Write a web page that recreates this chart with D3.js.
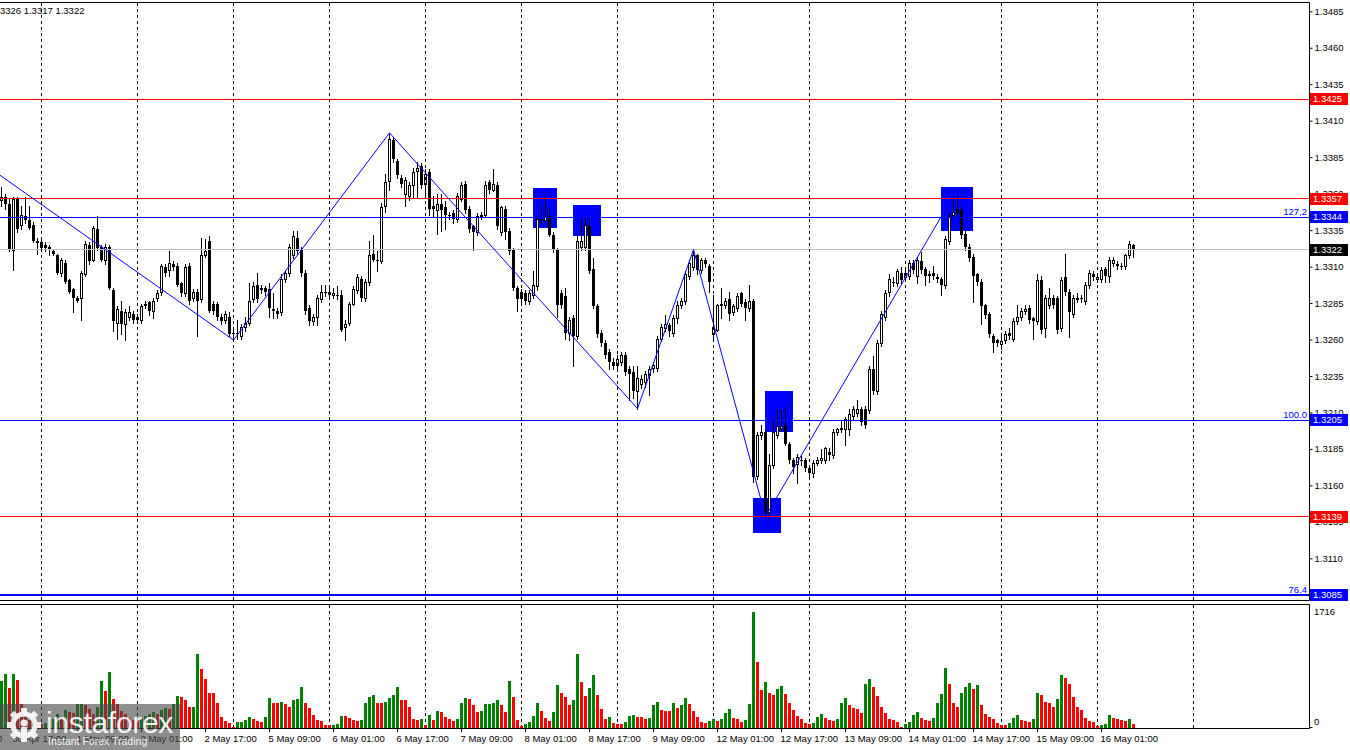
<!DOCTYPE html>
<html><head><meta charset="utf-8">
<script src="https://cdn.jsdelivr.net/npm/d3@7"></script>
<style>body{margin:0;background:#fff}svg{display:block}</style>
</head><body><svg id="chart" width="1350" height="750"></svg>
<script>
// ---------------- DATA ----------------
const openP = [1.3356,1.3358,1.3353,1.3322,1.3357,1.3339,1.3345,1.3342,1.3339,1.3327,
1.3327,1.3325,1.3324,1.3321,1.3318,1.3306,1.3313,1.3301,1.3295,1.3289,
1.3289,1.3305,1.3325,1.3315,1.3336,1.3324,1.3315,1.3324,1.3294,1.3272,
1.3280,1.3271,1.3276,1.3278,1.3276,1.3274,1.3284,1.3286,1.3280,1.3289,
1.3293,1.3310,1.3308,1.3312,1.3311,1.3299,1.3292,1.3311,1.3289,1.3293,
1.3288,1.3318,1.3328,1.3285,1.3285,1.3276,1.3274,1.3276,1.3265,1.3265,
1.3263,1.3269,1.3272,1.3288,1.3298,1.3295,1.3296,1.3295,1.3281,1.3280,
1.3279,1.3302,1.3306,1.3318,1.3330,1.3322,1.3306,1.3282,1.3273,1.3276,
1.3288,1.3293,1.3293,1.3291,1.3291,1.3291,1.3269,1.3272,1.3285,1.3294,
1.3302,1.3289,1.3300,1.3319,1.3315,1.3314,1.3352,1.3369,1.3397,1.3383,
1.3371,1.3360,1.3359,1.3366,1.3376,1.3379,1.3367,1.3375,1.3352,1.3349,
1.3353,1.3351,1.3346,1.3347,1.3343,1.3357,1.3367,1.3350,1.3338,1.3334,
1.3345,1.3346,1.3368,1.3363,1.3366,1.3334,1.3350,1.3335,1.3322,1.3296,
1.3293,1.3292,1.3287,1.3291,1.3297,1.3342,1.3342,1.3345,1.3332,1.3322,
1.3292,1.3290,1.3265,1.3275,1.3263,1.3324,1.3324,1.3338,1.3309,1.3283,
1.3265,1.3258,1.3252,1.3245,1.3243,1.3245,1.3250,1.3240,1.3238,1.3225,
1.3230,1.3231,1.3236,1.3241,1.3241,1.3261,1.3268,1.3270,1.3265,1.3275,
1.3284,1.3287,1.3304,1.3310,1.3318,1.3308,1.3315,1.3311,1.3264,1.3267,
1.3284,1.3284,1.3288,1.3279,1.3282,1.3292,1.3286,1.3282,1.3287,1.3167,
1.3195,1.3197,1.3142,1.3174,1.3195,1.3200,1.3202,1.3189,1.3178,1.3175,
1.3178,1.3178,1.3172,1.3169,1.3176,1.3178,1.3178,1.3183,1.3181,1.3197,
1.3199,1.3199,1.3199,1.3208,1.3210,1.3213,1.3213,1.3212,1.3240,1.3225,
1.3258,1.3276,1.3293,1.3300,1.3299,1.3306,1.3303,1.3304,1.3313,1.3304,
1.3314,1.3309,1.3305,1.3306,1.3303,1.3302,1.3298,1.3328,1.3346,1.3350,
1.3349,1.3333,1.3324,1.3317,1.3305,1.3300,1.3284,1.3278,1.3263,1.3260,
1.3257,1.3260,1.3265,1.3261,1.3273,1.3276,1.3280,1.3282,1.3275,1.3273,
1.3301,1.3268,1.3284,1.3289,1.3289,1.3268,1.3303,1.3293,1.3278,1.3288,
1.3289,1.3287,1.3298,1.3305,1.3302,1.3302,1.3309,1.3304,1.3313,1.3312,
1.3311,1.3311,1.3318,1.3325];

const highP = [1.3365,1.3360,1.3357,1.3358,1.3358,1.3352,1.3358,1.3352,1.3341,1.3330,
1.3329,1.3327,1.3325,1.3322,1.3319,1.3316,1.3315,1.3302,1.3296,1.3290,
1.3307,1.3328,1.3327,1.3338,1.3345,1.3325,1.3326,1.3325,1.3296,1.3283,
1.3287,1.3281,1.3283,1.3280,1.3278,1.3285,1.3287,1.3287,1.3289,1.3294,
1.3312,1.3312,1.3321,1.3314,1.3313,1.3300,1.3312,1.3313,1.3295,1.3295,
1.3330,1.3329,1.3331,1.3287,1.3286,1.3278,1.3280,1.3279,1.3267,1.3274,
1.3271,1.3276,1.3299,1.3300,1.3306,1.3298,1.3297,1.3299,1.3292,1.3282,
1.3305,1.3308,1.3326,1.3335,1.3335,1.3324,1.3308,1.3284,1.3278,1.3291,
1.3298,1.3298,1.3297,1.3296,1.3297,1.3294,1.3274,1.3286,1.3297,1.3305,
1.3304,1.3302,1.3328,1.3332,1.3321,1.3354,1.3374,1.3402,1.3399,1.3384,
1.3373,1.3372,1.3368,1.3378,1.3382,1.3381,1.3377,1.3377,1.3359,1.3360,
1.3360,1.3355,1.3348,1.3349,1.3361,1.3368,1.3369,1.3352,1.3339,1.3347,
1.3348,1.3369,1.3370,1.3377,1.3368,1.3352,1.3352,1.3337,1.3323,1.3297,
1.3295,1.3294,1.3294,1.3307,1.3345,1.3351,1.3358,1.3351,1.3334,1.3323,
1.3294,1.3296,1.3276,1.3277,1.3332,1.3344,1.3344,1.3344,1.3316,1.3285,
1.3267,1.3260,1.3254,1.3248,1.3250,1.3252,1.3252,1.3242,1.3242,1.3242,
1.3236,1.3239,1.3242,1.3245,1.3263,1.3271,1.3277,1.3272,1.3277,1.3287,
1.3289,1.3307,1.3315,1.3321,1.3319,1.3316,1.3316,1.3312,1.3291,1.3285,
1.3296,1.3289,1.3293,1.3285,1.3292,1.3293,1.3288,1.3298,1.3288,1.3197,
1.3202,1.3199,1.3182,1.3206,1.3213,1.3212,1.3214,1.3190,1.3179,1.3182,
1.3181,1.3179,1.3173,1.3178,1.3180,1.3185,1.3187,1.3186,1.3199,1.3200,
1.3205,1.3207,1.3213,1.3215,1.3219,1.3214,1.3215,1.3242,1.3249,1.3260,
1.3280,1.3294,1.3305,1.3303,1.3309,1.3310,1.3309,1.3315,1.3315,1.3317,
1.3320,1.3310,1.3307,1.3311,1.3305,1.3303,1.3331,1.3348,1.3359,1.3359,
1.3351,1.3335,1.3326,1.3319,1.3306,1.3302,1.3285,1.3279,1.3264,1.3261,
1.3265,1.3266,1.3268,1.3275,1.3284,1.3282,1.3284,1.3284,1.3276,1.3305,
1.3304,1.3291,1.3296,1.3291,1.3290,1.3303,1.3319,1.3295,1.3291,1.3292,
1.3291,1.3300,1.3308,1.3307,1.3305,1.3310,1.3310,1.3317,1.3317,1.3314,
1.3313,1.3319,1.3328,1.3326];

const lowP = [1.3352,1.3350,1.3321,1.3308,1.3334,1.3336,1.3340,1.3336,1.3327,1.3319,
1.3322,1.3321,1.3318,1.3318,1.3305,1.3304,1.3299,1.3292,1.3279,1.3286,
1.3274,1.3304,1.3312,1.3314,1.3322,1.3314,1.3312,1.3295,1.3266,1.3261,
1.3264,1.3260,1.3274,1.3272,1.3272,1.3272,1.3282,1.3277,1.3275,1.3287,
1.3291,1.3304,1.3304,1.3308,1.3297,1.3290,1.3290,1.3285,1.3287,1.3263,
1.3286,1.3317,1.3279,1.3278,1.3274,1.3271,1.3272,1.3263,1.3260,1.3261,
1.3261,1.3266,1.3270,1.3286,1.3286,1.3292,1.3291,1.3276,1.3275,1.3275,
1.3277,1.3300,1.3304,1.3316,1.3319,1.3304,1.3278,1.3270,1.3270,1.3270,
1.3286,1.3290,1.3289,1.3289,1.3288,1.3266,1.3260,1.3270,1.3284,1.3292,
1.3287,1.3287,1.3298,1.3314,1.3307,1.3313,1.3348,1.3363,1.3382,1.3371,
1.3365,1.3352,1.3356,1.3358,1.3358,1.3364,1.3358,1.3346,1.3345,1.3333,
1.3335,1.3336,1.3343,1.3340,1.3341,1.3355,1.3347,1.3334,1.3322,1.3332,
1.3343,1.3344,1.3361,1.3362,1.3336,1.3332,1.3329,1.3319,1.3294,1.3280,
1.3286,1.3285,1.3285,1.3289,1.3294,1.3340,1.3341,1.3331,1.3320,1.3276,
1.3282,1.3261,1.3260,1.3242,1.3261,1.3322,1.3322,1.3306,1.3282,1.3262,
1.3256,1.3248,1.3240,1.3240,1.3240,1.3243,1.3236,1.3219,1.3220,1.3213,
1.3227,1.3228,1.3222,1.3238,1.3239,1.3259,1.3266,1.3263,1.3263,1.3272,
1.3282,1.3285,1.3302,1.3308,1.3305,1.3306,1.3310,1.3293,1.3260,1.3266,
1.3275,1.3282,1.3274,1.3277,1.3280,1.3283,1.3274,1.3280,1.3163,1.3165,
1.3192,1.3139,1.3140,1.3172,1.3193,1.3198,1.3188,1.3176,1.3169,1.3162,
1.3174,1.3170,1.3167,1.3166,1.3174,1.3176,1.3176,1.3178,1.3179,1.3195,
1.3197,1.3188,1.3195,1.3206,1.3208,1.3202,1.3200,1.3210,1.3223,1.3223,
1.3256,1.3274,1.3290,1.3297,1.3297,1.3299,1.3301,1.3302,1.3306,1.3299,
1.3306,1.3298,1.3300,1.3302,1.3300,1.3291,1.3296,1.3326,1.3344,1.3345,
1.3330,1.3322,1.3314,1.3286,1.3298,1.3271,1.3275,1.3262,1.3252,1.3256,
1.3254,1.3258,1.3261,1.3259,1.3271,1.3274,1.3278,1.3272,1.3261,1.3271,
1.3265,1.3262,1.3282,1.3282,1.3265,1.3266,1.3291,1.3262,1.3276,1.3286,
1.3286,1.3285,1.3296,1.3301,1.3300,1.3300,1.3300,1.3300,1.3311,1.3309,
1.3309,1.3309,1.3316,1.3317];

const closeP = [1.3358,1.3353,1.3322,1.3357,1.3336,1.3346,1.3342,1.3337,1.3328,1.3328,
1.3323,1.3323,1.3322,1.3319,1.3306,1.3315,1.3300,1.3293,1.3289,1.3287,
1.3306,1.3326,1.3314,1.3337,1.3323,1.3315,1.3324,1.3296,1.3273,1.3281,
1.3271,1.3279,1.3279,1.3274,1.3274,1.3283,1.3285,1.3280,1.3287,1.3292,
1.3311,1.3306,1.3313,1.3310,1.3298,1.3292,1.3310,1.3287,1.3293,1.3287,
1.3318,1.3321,1.3280,1.3280,1.3276,1.3273,1.3278,1.3264,1.3265,1.3264,
1.3269,1.3272,1.3287,1.3297,1.3288,1.3296,1.3293,1.3282,1.3280,1.3278,
1.3302,1.3306,1.3324,1.3331,1.3321,1.3306,1.3280,1.3273,1.3276,1.3289,
1.3293,1.3292,1.3291,1.3292,1.3290,1.3267,1.3271,1.3285,1.3295,1.3303,
1.3289,1.3300,1.3318,1.3315,1.3314,1.3351,1.3368,1.3398,1.3384,1.3373,
1.3367,1.3370,1.3366,1.3375,1.3378,1.3366,1.3374,1.3350,1.3350,1.3353,
1.3349,1.3346,1.3345,1.3343,1.3359,1.3366,1.3349,1.3336,1.3334,1.3345,
1.3346,1.3366,1.3363,1.3367,1.3338,1.3351,1.3334,1.3321,1.3296,1.3288,
1.3288,1.3287,1.3292,1.3298,1.3343,1.3343,1.3344,1.3332,1.3322,1.3284,
1.3284,1.3265,1.3274,1.3263,1.3328,1.3328,1.3339,1.3307,1.3283,1.3264,
1.3258,1.3250,1.3245,1.3242,1.3247,1.3250,1.3238,1.3237,1.3225,1.3234,
1.3233,1.3237,1.3240,1.3243,1.3261,1.3269,1.3271,1.3266,1.3275,1.3284,
1.3287,1.3305,1.3313,1.3318,1.3308,1.3315,1.3312,1.3300,1.3269,1.3284,
1.3285,1.3287,1.3278,1.3283,1.3290,1.3285,1.3282,1.3287,1.3166,1.3195,
1.3197,1.3141,1.3174,1.3197,1.3201,1.3201,1.3189,1.3178,1.3173,1.3180,
1.3177,1.3172,1.3169,1.3176,1.3178,1.3179,1.3186,1.3181,1.3197,1.3199,
1.3200,1.3206,1.3209,1.3213,1.3213,1.3204,1.3202,1.3240,1.3225,1.3258,
1.3278,1.3292,1.3302,1.3300,1.3307,1.3301,1.3306,1.3313,1.3308,1.3315,
1.3308,1.3304,1.3304,1.3304,1.3302,1.3298,1.3329,1.3345,1.3348,1.3347,
1.3332,1.3324,1.3316,1.3304,1.3300,1.3283,1.3277,1.3264,1.3258,1.3258,
1.3259,1.3264,1.3263,1.3273,1.3276,1.3280,1.3281,1.3274,1.3273,1.3301,
1.3267,1.3289,1.3289,1.3284,1.3267,1.3301,1.3293,1.3279,1.3289,1.3289,
1.3288,1.3298,1.3306,1.3303,1.3303,1.3308,1.3304,1.3315,1.3315,1.3311,
1.3311,1.3318,1.3326,1.3322];

const volumes = [700,800,590,800,715,350,180,120,150,90,
60,80,110,140,200,170,260,230,220,348,
350,340,284,210,318,700,544,833,436,348,
250,200,150,120,120,150,180,200,230,210,
260,300,280,348,480,465,421,309,318,1093,
877,730,524,520,363,157,98,69,15,83,
85,113,157,127,98,83,157,451,377,363,
392,348,318,421,425,612,377,289,186,113,
110,49,39,45,54,181,175,142,113,110,
115,377,465,495,377,375,392,451,495,612,
421,407,304,127,125,130,39,186,113,245,
230,157,127,98,127,363,451,436,333,230,
245,348,350,363,421,333,230,700,465,113,
25,54,83,172,363,245,142,98,230,642,
524,465,333,421,1093,686,480,593,789,495,
274,127,157,69,59,54,83,172,186,170,
157,127,142,333,392,260,258,245,377,289,
333,451,348,245,157,83,80,98,127,98,
127,216,274,142,127,83,113,348,1716,980,
568,686,524,495,583,627,510,363,260,172,
127,69,54,72,157,201,142,113,98,127,
363,451,333,289,274,216,657,730,612,480,
304,216,127,113,83,10,54,83,186,230,
142,113,110,142,377,510,892,657,363,318,
524,612,671,583,642,333,201,157,127,69,
39,38,69,142,186,113,110,83,127,524,
495,392,363,304,436,789,745,657,465,304,
260,142,98,83,25,40,54,186,142,140,
113,110,127,54];

// price axis ticks
const priceTicks = [1.3085,1.3110,1.3135,1.3160,1.3185,1.3210,1.3235,1.3260,1.3285,1.3310,1.3335,1.3360,1.3385,1.3410,1.3435,1.3460,1.3485];
const volumeMax = 1716;
// time axis labels (one every 16 bars, first one at bar -13)
const timeLabels = ["30 Apr 01:00","30 Apr 17:00","1 May 09:00","2 May 01:00","2 May 17:00","5 May 09:00","6 May 01:00","6 May 17:00","7 May 09:00","8 May 01:00","8 May 17:00","9 May 09:00","12 May 01:00","12 May 17:00","13 May 09:00","14 May 01:00","14 May 17:00","15 May 09:00","16 May 01:00"];
const timeLabelBars = [-13,3,19,35,51,67,83,99,115,131,147,163,179,195,211,227,243,259,275];
// bars where a new day starts
const dayStartBars = [10,34,58,82,106,130,154,178,202,226,250,274,298];
// horizontal levels
const levelPrices = [1.3425,1.3357,1.3344,1.3322,1.3205,1.3139,1.3085];
const levelColors = ["#ff0000","#ff0000","#0000ff","#c0c0c0","#0000ff","#ff0000","#0000ff"];
const levelBoxColors = ["#ff0000","#ff0000","#0000ff","#000000","#0000ff","#ff0000","#0000ff"];
const levelWidths = [1,1,1,1,1,1,2];
// fibonacci level captions
const fibPrices = [1.3344,1.3205,1.3085];
const fibTexts = ["127,2","100.0","76.4"];
// zigzag turning points [bar, price]
const zigzagBars = [-0.4,58,97,159,173,191,238];
const zigzagPrices = [1.3373,1.3260,1.3402,1.3213,1.3322,1.3139,1.3359];
// blue rectangles [bar from, bar to, price top, price bottom]
const rectBarFrom = [132.9,142.9,190.9,187.9,234.9];
const rectBarTo = [138.8,149.8,197.8,194.8,242.8];
const rectPriceTop = [1.33642,1.33526,1.32251,1.31517,1.33649];
const rectPriceBottom = [1.33368,1.33316,1.31972,1.31280,1.33350];
// last quote (high low close)
const lastQuote = ["1.3326","1.3317","1.3322"];

// ---------------- DRAWING ----------------
const FONT = '"Liberation Sans", Arial, sans-serif';
const svg = d3.select('#chart');
const x = d3.scaleLinear().domain([0, 283]).range([1.5, 1133.5]);
const y = d3.scaleLinear().domain([1.30818, 1.34917]).range([600, 2]);
const yv = d3.scaleLinear().domain([0, volumeMax]).range([728, 612]);
const R = Math.round;

svg.append('rect').attr('width', 1350).attr('height', 750).attr('fill', '#fff');

const defs = svg.append('defs');
defs.append('clipPath').attr('id', 'mainClip').append('rect')
  .attr('x', 0).attr('y', 3).attr('width', 1309).attr('height', 597);

const main = svg.append('g').attr('clip-path', 'url(#mainClip)');

// rectangles (background)
main.append('g').selectAll('rect').data(rectBarFrom).join('rect')
  .attr('x', (d, k) => R(x(rectBarFrom[k])))
  .attr('width', (d, k) => R(x(rectBarTo[k])) - R(x(rectBarFrom[k])))
  .attr('y', (d, k) => R(y(rectPriceTop[k])))
  .attr('height', (d, k) => R(y(rectPriceBottom[k])) - R(y(rectPriceTop[k])))
  .attr('fill', '#0000ff');

// day separators
const sep = svg.append('g').attr('stroke', '#000').attr('stroke-width', 1).attr('stroke-dasharray', '3,3');
sep.selectAll('line.m').data(dayStartBars).join('line').attr('class', 'm')
  .attr('x1', d => x(d)).attr('x2', d => x(d)).attr('y1', 3).attr('y2', 600);
sep.selectAll('line.v').data(dayStartBars).join('line').attr('class', 'v')
  .attr('x1', d => x(d)).attr('x2', d => x(d)).attr('y1', 605).attr('y2', 728);

// candles
const candles = d3.range(openP.length).map(i => ({ i, o: openP[i], h: highP[i], l: lowP[i], c: closeP[i], v: volumes[i] }));
const gc = main.append('g');
gc.selectAll('rect.wick').data(candles).join('rect').attr('class', 'wick')
  .attr('x', d => x(d.i) - 0.5).attr('width', 1)
  .attr('y', d => R(y(d.h)))
  .attr('height', d => Math.max(1, R(y(d.l)) - R(y(d.h)) + 1))
  .attr('fill', '#000');
gc.selectAll('rect.body').data(candles).join('rect').attr('class', 'body')
  .each(function (d) {
    const s = d3.select(this);
    const top = R(y(Math.max(d.o, d.c)));
    const bot = R(y(Math.min(d.o, d.c)));
    if (d.c > d.o && bot - top >= 1) {
      s.attr('x', x(d.i) - 1).attr('width', 2).attr('y', top + 0.5).attr('height', bot - top)
        .attr('fill', '#fff').attr('stroke', '#000').attr('stroke-width', 1);
    } else {
      s.attr('x', x(d.i) - 1.5).attr('width', 3).attr('y', top).attr('height', Math.max(1, bot - top + (d.c === d.o ? 1 : 0)))
        .attr('fill', '#000');
    }
  });

// horizontal levels
main.append('g').selectAll('line').data(levelPrices).join('line')
  .attr('x1', 0).attr('x2', 1309)
  .attr('y1', (d, k) => levelWidths[k] === 2 ? R(y(d)) : Math.floor(y(d)) + 0.5)
  .attr('y2', (d, k) => levelWidths[k] === 2 ? R(y(d)) : Math.floor(y(d)) + 0.5)
  .attr('stroke', (d, k) => levelColors[k]).attr('stroke-width', (d, k) => levelWidths[k]);

// zigzag
const zz = zigzagBars.map((b, k) => [b, zigzagPrices[k]]);
main.append('path').datum(zz)
  .attr('d', d3.line().x(d => x(d[0])).y(d => y(d[1])))
  .attr('fill', 'none').attr('stroke', '#0000ff').attr('stroke-width', 1);

// fib captions
svg.append('g').selectAll('text').data(fibPrices).join('text')
  .attr('x', 1307).attr('y', d => Math.floor(y(d)) - 2.5)
  .attr('text-anchor', 'end').attr('font-family', FONT).attr('font-size', 9.5)
  .attr('fill', '#0000ff').text((d, k) => fibTexts[k]);

// volume bars
svg.append('g').selectAll('rect').data(candles).join('rect')
  .attr('x', d => x(d.i) - 1.5).attr('width', 3)
  .attr('y', d => R(yv(d.v))).attr('height', d => 728 - R(yv(d.v)))
  .attr('fill', d => (d.i === 0 || d.v > volumes[d.i - 1]) ? '#008000' : '#ff0000');

// frames
const fr = svg.append('g').attr('stroke', '#000').attr('stroke-width', 1).attr('fill', 'none');
fr.append('path').attr('d', 'M0,2.5H1309.5V600.5H0');
fr.append('path').attr('d', 'M0,604.5H1309.5V728.5H0');

// right price axis
const yAxis = d3.axisRight(y).tickValues(priceTicks).tickSize(3).tickPadding(2)
  .tickFormat(d3.format('.4f')).offset(0);
const gy = svg.append('g').attr('transform', 'translate(1309.5,0)').call(yAxis);
gy.select('.domain').remove();
gy.attr('font-family', FONT).attr('font-size', 9.5);
gy.selectAll('text').attr('fill', '#000');

// price label boxes
const gb = svg.append('g');
levelPrices.forEach((p, k) => {
  const yy = y(p);
  gb.append('rect').attr('x', 1310).attr('y', R(yy) - 6).attr('width', 38).attr('height', 12)
    .attr('fill', levelBoxColors[k]);
  gb.append('text').attr('x', 1313).attr('y', R(yy)).attr('dy', '0.36em')
    .attr('font-family', FONT).attr('font-size', 9.5).attr('fill', '#fff')
    .text(d3.format('.4f')(p));
});

// volume labels
const gvl = svg.append('g').attr('font-family', FONT).attr('font-size', 9.5).attr('fill', '#000');
gvl.append('text').attr('x', 1314).attr('y', yv(volumeMax)).attr('dy', '0.36em').text(String(volumeMax));
gvl.append('text').attr('x', 1314).attr('y', yv(0) - 6).attr('dy', '0.36em').text('0');
svg.append('line').attr('x1', 1309.5).attr('x2', 1312.5).attr('y1', 727.5).attr('y2', 727.5).attr('stroke', '#000');

// time axis
const xAxis = d3.axisBottom(x).tickValues(timeLabelBars).tickSize(3).tickPadding(3)
  .tickFormat((d, k) => timeLabels[k]).offset(0);
const gx = svg.append('g').attr('transform', 'translate(0,729)').call(xAxis);
gx.select('.domain').remove();
gx.attr('font-family', FONT).attr('font-size', 9.5);
gx.selectAll('text').attr('text-anchor', 'start').attr('x', -1).attr('fill', '#000');

// top-left quote
svg.append('text').attr('x', -8).attr('y', 14).attr('font-family', FONT).attr('font-size', 9.5)
  .attr('fill', '#000').text(lastQuote.join(' '));

// watermark
const wm = svg.append('g');
wm.append('rect').attr('x', 0).attr('y', 704).attr('width', 180).attr('height', 46)
  .attr('fill', '#4a4a4a').attr('opacity', 0.62);
const gear = wm.append('g').attr('transform', 'translate(24,725)').attr('fill', '#fff').attr('opacity', 0.9);
d3.range(8).forEach(k => {
  gear.append('rect').attr('x', -3).attr('y', -17).attr('width', 6).attr('height', 8)
    .attr('transform', `rotate(${k * 45})`);
});
gear.append('circle').attr('r', 11).attr('fill', 'none').attr('stroke', '#fff').attr('stroke-width', 5);
gear.append('circle').attr('r', 3.5).attr('cy', -2);
gear.append('rect').attr('x', -3).attr('y', 2).attr('width', 6).attr('height', 7);
wm.append('text').attr('x', 46).attr('y', 733).attr('font-family', FONT).attr('font-size', 30)
  .attr('fill', '#fff').attr('opacity', 0.9).attr('letter-spacing', -0.3).text('instaforex');
wm.append('text').attr('x', 48).attr('y', 745).attr('font-family', FONT).attr('font-size', 10.5)
  .attr('fill', '#fff').attr('opacity', 0.85).text('Instant Forex Trading');
</script>
</body></html>
